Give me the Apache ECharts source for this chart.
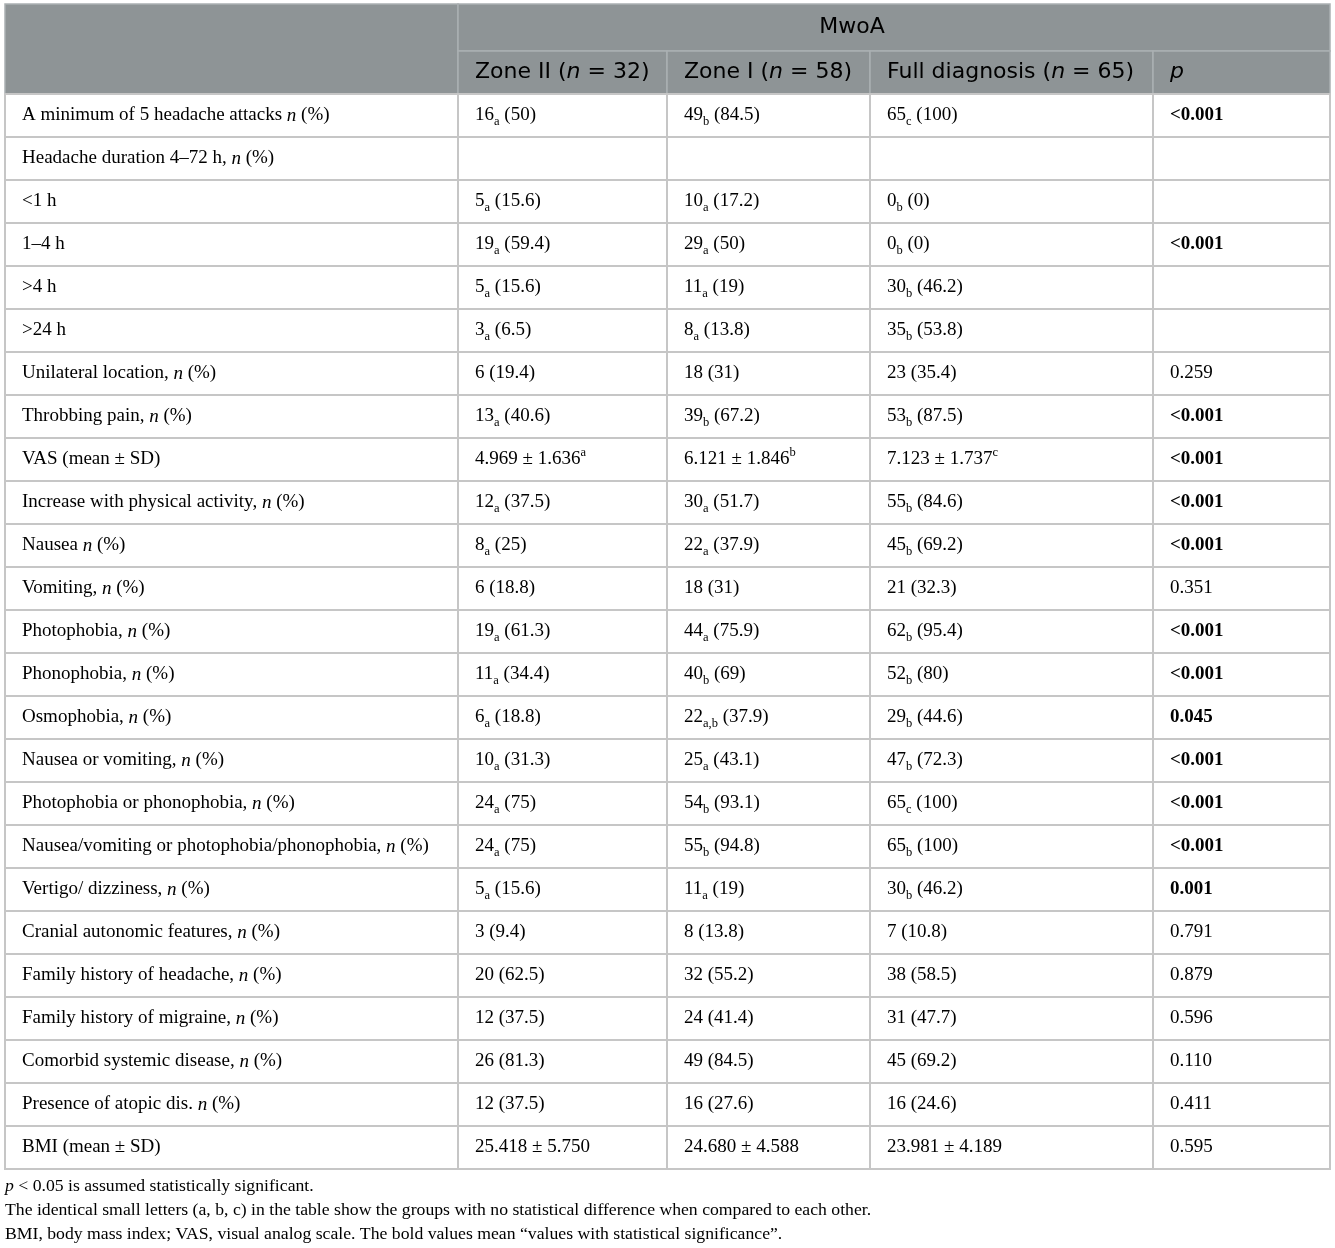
<!DOCTYPE html>
<html>
<head>
<meta charset="utf-8">
<title>MwoA table</title>
<script src="https://cdn.jsdelivr.net/npm/echarts@6/dist/echarts.min.js"></script>
<style>
  html, body { margin: 0; padding: 0; background: #fff; }
  #main { width: 1335px; height: 1248px; }
</style>
</head>
<body>
<div id="main"></div>
<script>
// table content (_x = subscript letters, ^x = superscript letter)
var groupTitle = 'MwoA';
var columnNames = ['Zone II (n = 32)', 'Zone I (n = 58)', 'Full diagnosis (n = 65)', 'p'];
var rowLabels = [
  'A minimum of 5 headache attacks n (%)',
  'Headache duration 4\u201372 h, n (%)',
  '<1 h',
  '1\u20134 h',
  '>4 h',
  '>24 h',
  'Unilateral location, n (%)',
  'Throbbing pain, n (%)',
  'VAS (mean \u00b1 SD)',
  'Increase with physical activity, n (%)',
  'Nausea n (%)',
  'Vomiting, n (%)',
  'Photophobia, n (%)',
  'Phonophobia, n (%)',
  'Osmophobia, n (%)',
  'Nausea or vomiting, n (%)',
  'Photophobia or phonophobia, n (%)',
  'Nausea/vomiting or photophobia/phonophobia, n (%)',
  'Vertigo/ dizziness, n (%)',
  'Cranial autonomic features, n (%)',
  'Family history of headache, n (%)',
  'Family history of migraine, n (%)',
  'Comorbid systemic disease, n (%)',
  'Presence of atopic dis. n (%)',
  'BMI (mean \u00b1 SD)'
];
var zoneII = [
  '16_a (50)', '', '5_a (15.6)', '19_a (59.4)', '5_a (15.6)', '3_a (6.5)',
  '6 (19.4)', '13_a (40.6)', '4.969 \u00b1 1.636^a', '12_a (37.5)', '8_a (25)',
  '6 (18.8)', '19_a (61.3)', '11_a (34.4)', '6_a (18.8)', '10_a (31.3)',
  '24_a (75)', '24_a (75)', '5_a (15.6)', '3 (9.4)', '20 (62.5)', '12 (37.5)',
  '26 (81.3)', '12 (37.5)', '25.418 \u00b1 5.750'
];
var zoneI = [
  '49_b (84.5)', '', '10_a (17.2)', '29_a (50)', '11_a (19)', '8_a (13.8)',
  '18 (31)', '39_b (67.2)', '6.121 \u00b1 1.846^b', '30_a (51.7)', '22_a (37.9)',
  '18 (31)', '44_a (75.9)', '40_b (69)', '22_a,b (37.9)', '25_a (43.1)',
  '54_b (93.1)', '55_b (94.8)', '11_a (19)', '8 (13.8)', '32 (55.2)', '24 (41.4)',
  '49 (84.5)', '16 (27.6)', '24.680 \u00b1 4.588'
];
var fullDiagnosis = [
  '65_c (100)', '', '0_b (0)', '0_b (0)', '30_b (46.2)', '35_b (53.8)',
  '23 (35.4)', '53_b (87.5)', '7.123 \u00b1 1.737^c', '55_b (84.6)', '45_b (69.2)',
  '21 (32.3)', '62_b (95.4)', '52_b (80)', '29_b (44.6)', '47_b (72.3)',
  '65_c (100)', '65_b (100)', '30_b (46.2)', '7 (10.8)', '38 (58.5)', '31 (47.7)',
  '45 (69.2)', '16 (24.6)', '23.981 \u00b1 4.189'
];
var pValues = [
  '<0.001', '', '', '<0.001', '', '',
  '0.259', '<0.001', '<0.001', '<0.001', '<0.001',
  '0.351', '<0.001', '<0.001', '0.045', '<0.001',
  '<0.001', '<0.001', '0.001', '0.791', '0.879', '0.596',
  '0.110', '0.411', '0.595'
];
var footnotes = [
  'p < 0.05 is assumed statistically significant.',
  'The identical small letters (a, b, c) in the table show the groups with no statistical difference when compared to each other.',
  'BMI, body mass index; VAS, visual analog scale. The bold values mean \u201cvalues with statistical significance\u201d.'
];

// layout
var colEdges = [5, 458, 667, 870, 1153, 1330];
var padLeft = 17;
var titleShift = -42; // group title sits a bit left of the span centre
var headerRows = 2;
var nRows = headerRows + rowLabels.length;
var rowH = 43;

function toRich(str, base) {
  var out = '', re = /(_[a-c](?:,[a-c])*|\^[a-c]|\b[np]\b)/g, last = 0, m;
  while ((m = re.exec(str))) {
    if (m.index > last) out += '{' + base + '|' + str.slice(last, m.index) + '}';
    var t = m[0];
    if (t[0] === '_') out += '{sub|' + t.slice(1) + '}';
    else if (t[0] === '^') out += '{sup|' + t.slice(1) + '}';
    else out += '{' + base + 'i|' + t + '}';
    last = m.index + t.length;
  }
  if (last < str.length) out += '{' + base + '|' + str.slice(last) + '}';
  return out;
}

function isSignificant(p) {
  if (!p) return false;
  return parseFloat(p.replace('<', '')) < 0.05;
}

var serif = '"Liberation Serif", "Times New Roman", serif';
var sans = '"DejaVu Sans", sans-serif';
var ink = '#231f20';
var rich = {
  n: { fontFamily: serif, fontSize: 19, color: ink, lineHeight: 26, verticalAlign: 'middle' },
  ni: { fontFamily: serif, fontSize: 19, color: ink, fontStyle: 'italic', lineHeight: 26, verticalAlign: 'middle' },
  b: { fontFamily: serif, fontSize: 19, color: ink, fontWeight: 'bold', lineHeight: 26, verticalAlign: 'middle' },
  sub: { fontFamily: serif, fontSize: 12.5, color: ink, lineHeight: 15, verticalAlign: 'bottom' },
  sup: { fontFamily: serif, fontSize: 12.5, color: ink, lineHeight: 17, verticalAlign: 'top' },
  h: { fontFamily: sans, fontSize: 22, color: '#fdfdfd', lineHeight: 26, verticalAlign: 'middle' },
  hi: { fontFamily: sans, fontSize: 22, color: '#fdfdfd', fontStyle: 'italic', lineHeight: 26, verticalAlign: 'middle' },
  f: { fontFamily: serif, fontSize: 17.7, color: ink, lineHeight: 22, verticalAlign: 'middle' },
  fi: { fontFamily: serif, fontSize: 17.7, color: ink, fontStyle: 'italic', lineHeight: 22, verticalAlign: 'middle' }
};

// build cells: c0..c1 column span, r row, rs row span
var cells = [];
cells.push({ value: [0, 0], c0: 0, c1: 1, rs: 2, text: '', head: true });
cells.push({ value: [1, 0], c0: 1, c1: 5, rs: 1, text: toRich(groupTitle, 'h'), head: true, center: true });
columnNames.forEach(function (name, i) {
  cells.push({ value: [i + 1, 1], c0: i + 1, c1: i + 2, rs: 1, text: toRich(name, 'h'), head: true });
});
var columns = [rowLabels, zoneII, zoneI, fullDiagnosis, pValues];
rowLabels.forEach(function (label, r) {
  columns.forEach(function (col, c) {
    var v = col[r];
    var base = (c === 4 && isSignificant(v)) ? 'b' : 'n';
    cells.push({ value: [c, r + headerRows], c0: c, c1: c + 1, rs: 1, text: v ? toRich(v, base) : '' });
  });
});

var rowCats = [];
for (var i = 0; i < nRows; i++) rowCats.push(String(i));

var chart = echarts.init(document.getElementById('main'));
chart.setOption({
  animation: false,
  grid: { left: 0, top: 8, width: 1335, height: nRows * rowH },
  xAxis: { type: 'value', min: 0, max: 1335, show: false },
  yAxis: { type: 'category', data: rowCats, inverse: true, show: false },
  series: [{
    type: 'custom',
    encode: { x: 0, y: 1 },
    data: cells,
    renderItem: function (params, api) {
      var cell = cells[params.dataIndex];
      var x0 = api.coord([colEdges[cell.c0], cell.value[1]])[0];
      var x1 = api.coord([colEdges[cell.c1], cell.value[1]])[0];
      var yc = api.coord([0, cell.value[1]])[1];
      var h = api.size([0, 1])[1];
      var top = yc - h / 2;
      var height = h * cell.rs;
      if (cell.head && cell.value[1] === 0) { top -= 4; height += 4; }
      var children = [{
        type: 'rect',
        shape: { x: x0, y: top, width: x1 - x0, height: height },
        style: cell.head
          ? { fill: '#8e9496', stroke: '#aab0b2', lineWidth: 1.5 }
          : { fill: '#fff', stroke: '#c6c6c6', lineWidth: 2 }
      }];
      if (cell.text) {
        children.push({
          type: 'text',
          style: {
            text: cell.text,
            rich: rich,
            x: cell.center ? (x0 + x1) / 2 + titleShift : x0 + padLeft,
            y: top + height / 2,
            align: cell.center ? 'center' : 'left',
            verticalAlign: 'middle'
          }
        });
      }
      return { type: 'group', children: children };
    }
  }],
  graphic: footnotes.map(function (t, i) {
    return {
      type: 'text',
      left: 5,
      top: 1177 + i * 24,
      style: { text: toRich(t, 'f'), rich: rich }
    };
  })
});
</script>
</body>
</html>
